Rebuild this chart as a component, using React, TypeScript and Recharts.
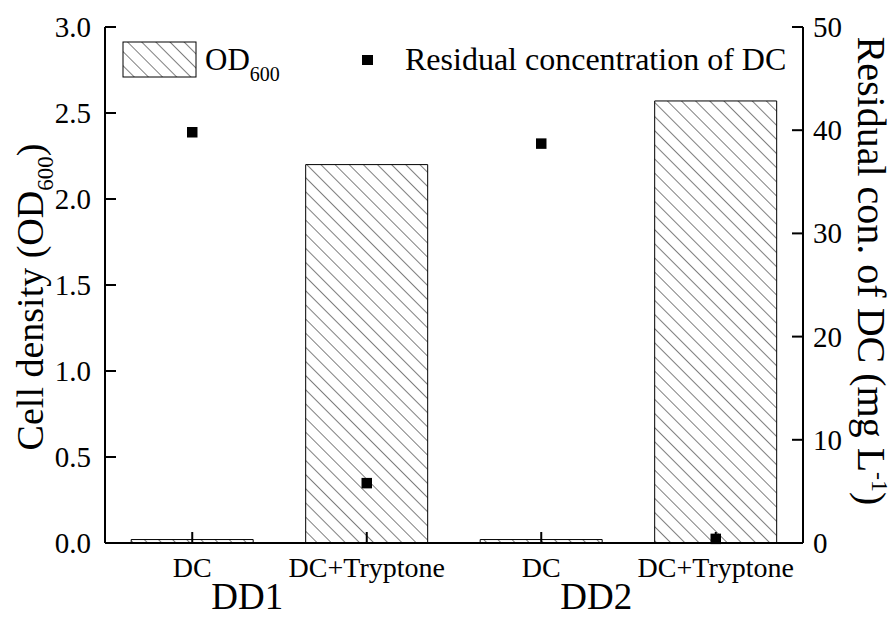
import { ComposedChart, Bar, Scatter, XAxis, YAxis, Legend, ZAxis } from 'recharts';

const ids = ['dd1-dc', 'dd1-tryp', 'dd2-dc', 'dd2-tryp'];
const treatments = ['DC', 'DC+Tryptone', 'DC', 'DC+Tryptone'];
const strains = ['DD1', '', 'DD2', ''];
const od600 = [0.02, 2.2, 0.02, 2.57];
const residualDC = [39.8, 5.8, 38.7, 0.4];

const leftTicks = [0, 0.5, 1.0, 1.5, 2.0, 2.5, 3.0];
const rightTicks = [0, 10, 20, 30, 40, 50];

const chartData = ids.map((id, i) => ({
  id,
  treatment: treatments[i],
  strain: strains[i],
  od: od600[i],
  resid: residualDC[i],
}));

const FONT = '"Liberation Serif", "Times New Roman", serif';
const TICK_LEN = 11;

// ticks point into the plot, so each custom tick draws its own line
function LeftTick(props: any) {
  const { x, y, payload } = props;
  const m = 14;
  return (
    <g>
      <line x1={x + m} y1={y} x2={x + m + TICK_LEN} y2={y} stroke="#000" strokeWidth={2} />
      <text x={x} y={y} dy={10} textAnchor="end" fontFamily={FONT} fontSize={29} fill="#000">
        {Number(payload.value).toFixed(1)}
      </text>
    </g>
  );
}

function RightTick(props: any) {
  const { x, y, payload } = props;
  const m = 10;
  return (
    <g>
      <line x1={x - m} y1={y} x2={x - m - TICK_LEN} y2={y} stroke="#000" strokeWidth={2} />
      <text x={x} y={y} dy={10} textAnchor="start" fontFamily={FONT} fontSize={29} fill="#000">
        {payload.value}
      </text>
    </g>
  );
}

function CatTick(props: any) {
  const { x, y, index } = props;
  const m = 15;
  return (
    <g>
      <line x1={x} y1={y - m} x2={x} y2={y - m - TICK_LEN} stroke="#000" strokeWidth={2} />
      <text x={x} y={y} dy={19} textAnchor="middle" fontFamily={FONT} fontSize={28} fill="#000">
        {treatments[index]}
      </text>
    </g>
  );
}

function StrainTick(props: any) {
  const { x, y, index } = props;
  const label = strains[index];
  if (!label) return null;
  return (
    <text x={x + 55} y={y + 26} textAnchor="middle" fontFamily={FONT} fontSize={37} fill="#000">
      {label}
    </text>
  );
}

function LeftTitle() {
  const cy = 297;
  const cx = 43;
  return (
    <text
      x={cx}
      y={cy}
      transform={`rotate(-90 ${cx} ${cy})`}
      textAnchor="middle"
      fontFamily={FONT}
      fontSize={38}
      fill="#000"
    >
      Cell density (OD
      <tspan fontSize={23} dy={10}>600</tspan>
      <tspan dy={-10}>)</tspan>
    </text>
  );
}

function RightTitle() {
  const cy = 271;
  const cx = 858;
  return (
    <text
      x={cx}
      y={cy}
      transform={`rotate(90 ${cx} ${cy})`}
      textAnchor="middle"
      fontFamily={FONT}
      fontSize={40}
      fill="#000"
    >
      Residual con. of DC (mg L
      <tspan fontSize={24} dy={-14}>-1</tspan>
      <tspan dy={14}>)</tspan>
    </text>
  );
}

function renderLegend() {
  return (
    <svg width={895} height={100} style={{ display: 'block' }}>
      <defs>
        <pattern id="hatchLegend" patternUnits="userSpaceOnUse" width={10} height={10} patternTransform="rotate(-45)">
          <line x1={0} y1={0} x2={0} y2={10} stroke="#000" strokeWidth={1} />
        </pattern>
      </defs>
      <rect x={123} y={42} width={73} height={35} fill="url(#hatchLegend)" stroke="#000" strokeWidth={1} />
      <text x={205} y={70} fontFamily={FONT} fontSize={31} fill="#000">
        OD<tspan fontSize={20} dy={11}>600</tspan>
      </text>
      <rect x={362} y={55} width={11} height={10} fill="#000" />
      <text x={405} y={70} fontFamily={FONT} fontSize={32} fill="#000">
        Residual concentration of DC
      </text>
    </svg>
  );
}

export default function App() {
  return (
    <div style={{ width: 895, height: 617, background: '#fff' }}>
      <style>{`body{margin:0;}`}</style>
      <ComposedChart
        width={895}
        height={617}
        data={chartData}
        margin={{ top: 27, right: 0, left: 0, bottom: 0 }}
        barCategoryGap="15%"
      >
        <defs>
          <pattern id="hatch" patternUnits="userSpaceOnUse" width={10} height={10} patternTransform="rotate(-45)">
            <line x1={0} y1={0} x2={0} y2={10} stroke="#000" strokeWidth={1} />
          </pattern>
        </defs>
        <XAxis
          xAxisId="top"
          orientation="top"
          dataKey="id"
          height={0}
          tick={false}
          tickLine={false}
          axisLine={{ stroke: '#000', strokeWidth: 2 }}
        />
        <XAxis
          xAxisId="cat"
          dataKey="id"
          height={40}
          tick={<CatTick />}
          tickSize={0}
          tickMargin={15}
          tickLine={false}
          axisLine={{ stroke: '#000', strokeWidth: 2 }}
          interval={0}
        />
        <XAxis
          xAxisId="grp"
          dataKey="id"
          height={34}
          axisLine={false}
          tickLine={false}
          tickSize={0}
          tickMargin={0}
          interval={0}
          tick={<StrainTick />}
        />
        <YAxis
          yAxisId="left"
          orientation="left"
          width={105}
          domain={[0, 3]}
          ticks={leftTicks}
          tick={<LeftTick />}
          tickSize={0}
          tickMargin={14}
          tickLine={false}
          axisLine={{ stroke: '#000', strokeWidth: 2 }}
          label={<LeftTitle />}
        />
        <YAxis
          yAxisId="right"
          orientation="right"
          width={92}
          domain={[0, 50]}
          ticks={rightTicks}
          tick={<RightTick />}
          tickSize={0}
          tickMargin={10}
          tickLine={false}
          axisLine={{ stroke: '#000', strokeWidth: 2 }}
          label={<RightTitle />}
        />
        <ZAxis range={[110, 110]} />
        <Legend
          content={renderLegend}
          layout="horizontal"
          verticalAlign="middle"
          wrapperStyle={{ position: 'absolute', top: 0, left: 0, width: 895, height: 100 }}
        />
        <Bar
          xAxisId="cat"
          yAxisId="left"
          dataKey="od"
          name="OD600"
          fill="url(#hatch)"
          stroke="#000"
          strokeWidth={1}
          isAnimationActive={false}
        />
        <Scatter
          xAxisId="cat"
          yAxisId="right"
          dataKey="resid"
          name="Residual concentration of DC"
          fill="#000"
          shape="square"
          legendType="square"
          isAnimationActive={false}
        />
      </ComposedChart>
    </div>
  );
}
